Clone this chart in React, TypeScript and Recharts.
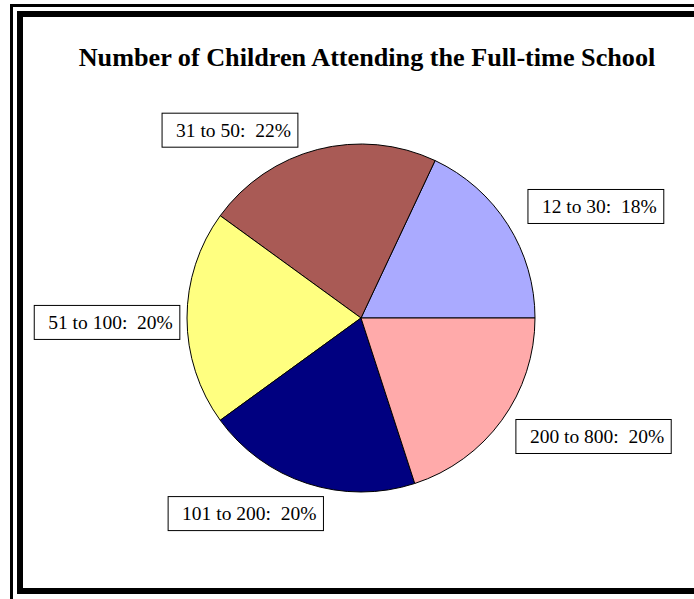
import { PieChart, Pie, Cell } from "recharts";

const categories = ["12 to 30", "31 to 50", "51 to 100", "101 to 200", "200 to 800"];
const shares = [18, 22, 20, 20, 20];
const sliceColors = ["#AAAAFF", "#A95A55", "#FFFF80", "#000080", "#FFAAAA"];

const title = "Number of Children Attending the Full-time School";

const data = categories.map((name, i) => ({ name, value: shares[i] }));
const total = shares.reduce((a, b) => a + b, 0);

// label placement: angle nudge (deg) from slice middle, distance from centre
const labelSpokes = [
  { shift: -7, dist: 260 },
  { shift: 20.5, dist: 229 },
  { shift: 1, dist: 254 },
  { shift: -12.5, dist: 227 },
  { shift: 9, dist: 261 },
];

const LABEL_FONT = "19.5px 'Liberation Serif', 'Times New Roman', serif";
let ctx: CanvasRenderingContext2D | null = null;
function textWidth(s: string) {
  if (!ctx) ctx = document.createElement("canvas").getContext("2d");
  if (!ctx) return s.length * 9;
  ctx.font = LABEL_FONT;
  return ctx.measureText(s).width;
}

const RAD = Math.PI / 180;

function renderLabel(props: any) {
  const { cx, cy, midAngle, index, value } = props;
  const spoke = labelSpokes[index];
  const a = (midAngle + spoke.shift) * RAD;
  const mx = cx + spoke.dist * Math.cos(a);
  const my = cy - spoke.dist * Math.sin(a);
  const pct = Math.round((value / total) * 100);
  const txt = `${categories[index]}:\u00A0\u00A0${pct}%`;
  const w = textWidth(txt) + 21;
  const h = 34;
  return (
    <g key={`lbl-${index}`}>
      <rect x={mx - w / 2} y={my - h / 2} width={w} height={h} fill="#fff" stroke="#000" strokeWidth={1} />
      <text
        x={mx - w / 2 + 14}
        y={my + 6.5}
        fontFamily="'Liberation Serif', 'Times New Roman', serif"
        fontSize={19.5}
        fill="#000"
      >
        {txt}
      </text>
    </g>
  );
}

export default function App() {
  return (
    <div style={{ position: "absolute", left: 0, top: 0, width: 694, height: 599, overflow: "hidden", background: "#fff" }}>
      <div style={{ position: "absolute", left: 10, top: 4, width: 720, height: 620, border: "3px solid #000", boxSizing: "border-box" }} />
      <div style={{ position: "absolute", left: 17, top: 11, width: 710, height: 583, border: "6px solid #000", boxSizing: "border-box" }} />
      <div
        style={{
          position: "absolute",
          left: 0,
          top: 45,
          width: 734,
          textAlign: "center",
          fontFamily: "'Liberation Serif', 'Times New Roman', serif",
          fontWeight: "bold",
          fontSize: 26.2,
          lineHeight: "26px",
          whiteSpace: "nowrap",
        }}
      >
        {title}
      </div>
      <div style={{ position: "absolute", left: 0, top: 0 }}>
        <PieChart width={694} height={599} margin={{ top: 0, right: 0, bottom: 0, left: 0 }}>
          <Pie
            data={data}
            dataKey="value"
            nameKey="name"
            cx={361}
            cy={318}
            outerRadius={174}
            startAngle={0}
            endAngle={360}
            stroke="#000"
            strokeWidth={1}
            label={renderLabel}
            labelLine={false}
            isAnimationActive={false}
          >
            {data.map((d, i) => (
              <Cell key={d.name} fill={sliceColors[i]} />
            ))}
          </Pie>
        </PieChart>
      </div>
    </div>
  );
}
